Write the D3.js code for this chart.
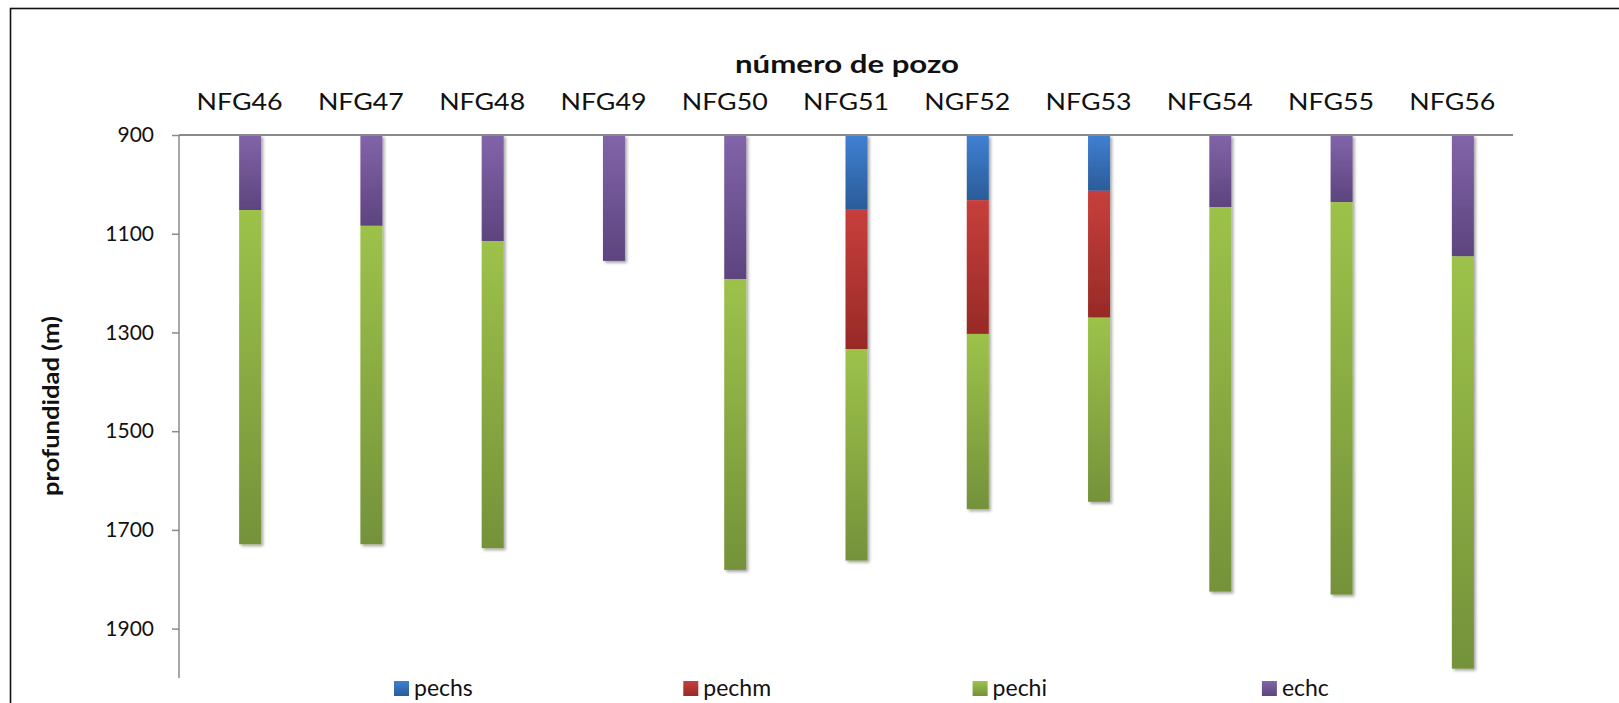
<!DOCTYPE html>
<html>
<head>
<meta charset="utf-8">
<script src="https://cdn.jsdelivr.net/npm/d3@7"></script>
<style>
  html, body { margin: 0; padding: 0; background: #ffffff; }
  svg { display: block; font-family: Lato, "Open Sans", sans-serif; }
</style>
</head>
<body>
<svg id="chart" width="1619" height="703"></svg>
<script>
// Wells along the top axis
const wells = ["NFG46", "NFG47", "NFG48", "NFG49", "NFG50", "NFG51", "NGF52", "NFG53", "NFG54", "NFG55", "NFG56"];

// Depth at which each column starts (m)
const topDepth = [900, 900, 900, 900, 900, 900, 900, 900, 900, 900, 900];

// Thickness of each unit per well (m), stacked downward in this order
const pechs = [0, 0, 0, 0, 0, 150, 132, 113, 0, 0, 0];
const pechm = [0, 0, 0, 0, 0, 284, 271, 257, 0, 0, 0];
const echc  = [152, 184, 215, 255, 292, 0, 0, 0, 146, 136, 246];
const pechi = [677, 645, 622, 0, 589, 428, 355, 373, 779, 795, 835];

// Depth axis ticks
const depthTicks = [900, 1100, 1300, 1500, 1700, 1900];

// Legend order
const legendOrder = ["pechs", "pechm", "pechi", "echc"];

const series = [
  { key: "pechs", values: pechs, top: "#3f80d2", bottom: "#2b5c99" },
  { key: "pechm", values: pechm, top: "#c73f3c", bottom: "#982a27" },
  { key: "echc",  values: echc,  top: "#8264a9", bottom: "#5d447e" },
  { key: "pechi", values: pechi, top: "#9dc24a", bottom: "#74923a" }
];

const svg = d3.select("#chart");
const margin = { left: 179, right: 106, top: 135, bottom: 25 };
const W = 1619, H = 703;

const x = d3.scaleBand().domain(wells).range([margin.left, W - margin.right]);
const y = d3.scaleLinear().domain([900, 2000]).range([margin.top, H - margin.bottom]);
const barW = 22;

// Outer frame
svg.append("rect")
  .attr("x", 10.5).attr("y", 8.5)
  .attr("width", 1700).attr("height", 760)
  .attr("fill", "none").attr("stroke", "#111").attr("stroke-width", 1.6);

const defs = svg.append("defs");
series.forEach(s => {
  const g = defs.append("linearGradient").attr("id", "grad-" + s.key)
    .attr("x1", 0).attr("y1", 0).attr("x2", 0).attr("y2", 1);
  g.append("stop").attr("offset", "0%").attr("stop-color", s.top);
  g.append("stop").attr("offset", "100%").attr("stop-color", s.bottom);
});
const shadow = defs.append("filter").attr("id", "shadow")
  .attr("x", "-50%").attr("y", "-5%").attr("width", "200%").attr("height", "110%");
shadow.append("feDropShadow").attr("dx", 2).attr("dy", 2)
  .attr("stdDeviation", 1.6).attr("flood-color", "#000").attr("flood-opacity", 0.35);

// Stack the units downward from the column's top depth
const rows = wells.map((w, i) => {
  const r = { well: w, start: topDepth[i] };
  series.forEach(s => { r[s.key] = s.values[i]; });
  return r;
});
const stacked = d3.stack().keys(series.map(s => s.key))(rows);

const barsG = svg.append("g").attr("filter", "url(#shadow)");
stacked.forEach((layer, li) => {
  const s = series[li];
  barsG.append("g").selectAll("rect")
    .data(layer.filter(d => d[1] - d[0] > 0))
    .join("rect")
    .attr("x", d => x(d.data.well) + x.bandwidth() / 2 - 0.5)
    .attr("width", barW)
    .attr("y", d => y(d.data.start + d[0]))
    .attr("height", d => y(d.data.start + d[1]) - y(d.data.start + d[0]))
    .attr("fill", "url(#grad-" + s.key + ")");
});

// Axes
const axisColor = "#8a8a8a";
svg.append("line")
  .attr("x1", margin.left).attr("x2", W - margin.right)
  .attr("y1", y(900)).attr("y2", y(900))
  .attr("stroke", axisColor).attr("stroke-width", 2);
svg.append("line")
  .attr("x1", margin.left).attr("x2", margin.left)
  .attr("y1", y(900)).attr("y2", y(2000))
  .attr("stroke", axisColor).attr("stroke-width", 1.5);

const yAxis = d3.axisLeft(y).tickValues(depthTicks).tickSize(7).tickPadding(18).tickFormat(d3.format("d"));
const yG = svg.append("g").attr("transform", `translate(${margin.left},0)`).call(yAxis);
yG.select(".domain").remove();
yG.selectAll(".tick line").attr("stroke", axisColor).attr("stroke-width", 1.5);
yG.selectAll(".tick text")
  .attr("fill", "#111").style("font-size", "21px")
  .style("font-family", "Lato, sans-serif");

// Category labels above the plot
svg.append("g").selectAll("text")
  .data(wells).join("text")
  .attr("x", d => x(d) + x.bandwidth() / 2)
  .attr("y", 110)
  .attr("text-anchor", "middle")
  .attr("fill", "#111")
  .style("font-size", "23px")
  .attr("textLength", 86).attr("lengthAdjust", "spacingAndGlyphs")
  .text(d => d);

// Axis titles
svg.append("text")
  .attr("x", 847).attr("y", 73)
  .attr("text-anchor", "middle")
  .attr("fill", "#111")
  .style("font-size", "24px").style("font-weight", "bold")
  .attr("textLength", 224).attr("lengthAdjust", "spacingAndGlyphs")
  .text("número de pozo");

svg.append("text")
  .attr("transform", "translate(59,406) rotate(-90)")
  .attr("text-anchor", "middle")
  .attr("fill", "#111")
  .style("font-size", "22px").style("font-weight", "bold")
  .attr("textLength", 180).attr("lengthAdjust", "spacingAndGlyphs")
  .text("profundidad (m)");

// Legend
const leg = svg.append("g").selectAll("g")
  .data(legendOrder).join("g")
  .attr("transform", (d, i) => `translate(${394 + i * 289.3},681)`);
leg.append("rect")
  .attr("width", 15).attr("height", 15)
  .attr("fill", d => "url(#grad-" + d + ")");
leg.append("text")
  .attr("x", 20).attr("y", 15)
  .attr("fill", "#111")
  .style("font-size", "23px")
  .text(d => d);
</script>
</body>
</html>
